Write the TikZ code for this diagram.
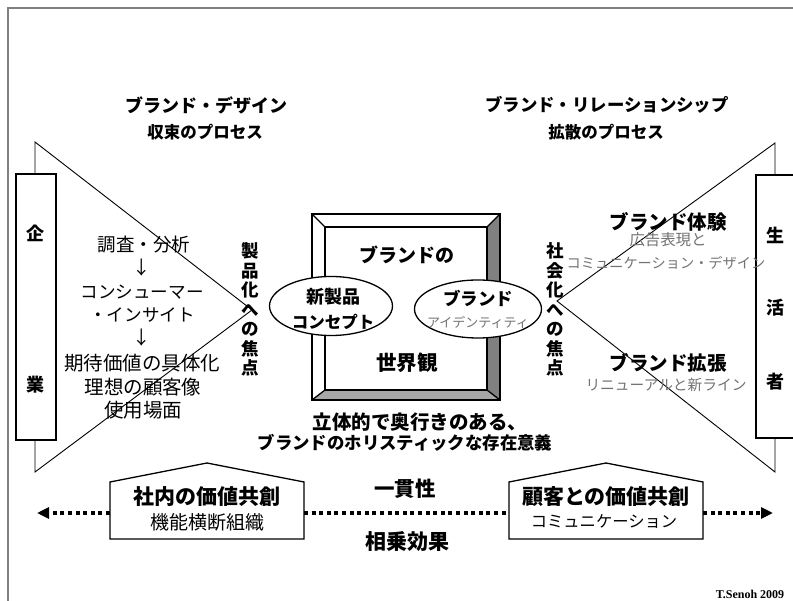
\documentclass[tikz,border=0pt]{standalone}
\usepackage{fontspec}
\setmainfont{Noto Sans CJK JP}
\newfontfamily\serifen{Liberation Serif}
\usetikzlibrary{arrows.meta,shapes.geometric}
\tikzset{
  every node/.style={inner sep=0pt, outer sep=0pt},
  ttl/.style={font=\bfseries\fontsize{18}{20}\selectfont},
  subttl/.style={font=\bfseries\fontsize{16.5}{19}\selectfont},
  lst/.style={font=\fontsize{18.5}{22}\selectfont},
  bld/.style={font=\bfseries\fontsize{#1}{#1}\selectfont},
  reg/.style={font=\fontsize{#1}{#1}\selectfont},
  gtxt/.style={text=black!55, font=\fontsize{#1}{#1}\selectfont},
  vtxt/.style={font=\bfseries\fontsize{17.5}{19.5}\selectfont, align=center},
  thin/.style={line width=0.9pt},
  boxline/.style={line width=1.3pt},
  dotline/.style={line width=3.6pt, dash pattern=on 4pt off 3.6pt},
  framel/.style={draw=black!50, line width=1.3pt}
}
\begin{document}
\begin{tikzpicture}[x=1pt,y=-1pt]
\useasboundingbox (0,0) rectangle (793,601);
\fill[white] (0,0) rectangle (793,601);
% page frame
\draw[framel] (8,601) -- (8,8) -- (793,8);

% titles
\node[ttl] (tl) at (206,105) {ブランド・デザイン};
\node[subttl] (sl) at (205,132) {収束のプロセス};
\node[ttl, font=\bfseries\fontsize{17.4}{20}\selectfont] (tr) at (607,105) {ブランド・リレーションシップ};
\node[subttl] (sr) at (606,132) {拡散のプロセス};

% left funnel
\coordinate (ltop) at (35,142);
\coordinate (lbot) at (35,472);
\coordinate (lapex) at (252,310);
\draw[thin] (35,174) -- (ltop) -- (lapex) -- (lbot) -- (35,440);
\node[draw, boxline, fill=white, minimum width=40pt, minimum height=266pt] (kigyo) at (36,307) {};
\node[bld=18] (ki) at (35,233) {企};
\node[bld=18] (gyo) at (35,385) {業};

% right funnel
\coordinate (rtop) at (775,143);
\coordinate (rbot) at (775,472);
\coordinate (rapex) at (557,301);
\draw[thin] (775,175) -- (rtop) -- (rapex) -- (rbot) -- (775,438);
\draw[boxline, fill=white] (800,175) -- (756,175) -- (756,438) -- (800,438);
\node[bld=18] (sei) at (775,235) {生};
\node[bld=18] (katsu) at (775,308) {活};
\node[bld=18] (sha) at (775,382) {者};

% left list
\node[lst] (l1) at (144,245) {調査・分析};
\node[lst] (l2) at (142,268) {↓};
\node[lst, font=\fontsize{17.6}{20}\selectfont] (l3) at (142,292) {コンシューマー};
\node[lst, font=\fontsize{17.6}{20}\selectfont] (l4) at (142,315) {・インサイト};
\node[lst] (l5) at (142,338) {↓};
\node[lst, font=\fontsize{19.5}{22}\selectfont] (l6) at (142,363) {期待価値の具体化};
\node[lst, font=\fontsize{19.5}{22}\selectfont] (l7) at (143,387) {理想の顧客像};
\node[lst, font=\fontsize{19.5}{22}\selectfont] (l8) at (143,410) {使用場面};

% right texts
\node[bld=19.5] (r1) at (668,222) {ブランド体験};
\node[gtxt=15.4] (r2) at (668,240) {広告表現と};
\node[gtxt=14.2] (r3) at (666,263) {コミュニケーション・デザイン};
\node[bld=19.5] (r4) at (668,363) {ブランド拡張};
\node[gtxt=14.7] (r5) at (666,385) {リニューアルと新ライン};

% vertical texts
\node[vtxt] (vl) at (250,309.5) {製\\品\\化\\へ\\の\\焦\\点};
\node[vtxt] (vr) at (555,309.5) {社\\会\\化\\へ\\の\\焦\\点};

% center bevel frame
\coordinate (o1) at (312,214); \coordinate (o2) at (500,214);
\coordinate (o3) at (500,400); \coordinate (o4) at (312,400);
\coordinate (i1) at (325,227); \coordinate (i2) at (487,227);
\coordinate (i3) at (487,390); \coordinate (i4) at (325,390);
\fill[white] (o1) -- (o2) -- (i2) -- (i1) -- cycle;
\fill[white] (o1) -- (o4) -- (i4) -- (i1) -- cycle;
\fill[black!50] (o2) -- (o3) -- (i3) -- (i2) -- cycle;
\fill[black!35] (o3) -- (o4) -- (i4) -- (i3) -- cycle;
\fill[white] (i1) rectangle (i3);
\draw[boxline] (o1) rectangle (o3);
\draw[boxline] (i1) rectangle (i3);
\draw[boxline] (o1) -- (i1) (o2) -- (i2) (o3) -- (i3) (o4) -- (i4);

\node[bld=19] (c1) at (407,255) {ブランドの};
\node[bld=20.5] (c2) at (407,363) {世界観};

% ellipses
\node[draw, boxline, fill=white, ellipse, minimum width=123pt, minimum height=59pt] (el) at (331,306) {};
\node[draw, boxline, fill=white, ellipse, minimum width=127pt, minimum height=58pt] (er) at (478,309) {};
\node[bld=18] (e1) at (333,297) {新製品};
\node[bld=16.5] (e2) at (333,322) {コンセプト};
\node[bld=17.5] (e3) at (478,298) {ブランド};
\node[gtxt=13] (e4) at (478,322) {アイデンティティ};

\node[bld=19.5] (d1) at (420,422) {立体的で奥行きのある、};
\node[bld=17.4] (d2) at (405,443) {ブランドのホリスティックな存在意義};

% houses
\draw[boxline, fill=white] (110,539) -- (110,482) -- (207,463) -- (304,482) -- (304,539) -- cycle;
\draw[boxline, fill=white] (509,539) -- (509,482) -- (606,463) -- (703,482) -- (703,539) -- cycle;
\coordinate (hlL) at (110,513); \coordinate (hlR) at (304,513);
\coordinate (hrL) at (509,513); \coordinate (hrR) at (703,513);
\coordinate (tipL) at (37,513); \coordinate (tipR) at (773,513);

\node[bld=21] (h1) at (207,497) {社内の価値共創};
\node[reg=19] (h2) at (207,522) {機能横断組織};
\node[bld=21] (h3) at (606,497) {顧客との価値共創};
\node[reg=16.3] (h4) at (604,522) {コミュニケーション};

\draw[dotline, -{Triangle[length=12pt,width=11pt]}] (hlL) -- (tipL);
\draw[dotline] (hlR) -- (hrL);
\draw[dotline, -{Triangle[length=12pt,width=11pt]}] (hrR) -- (tipR);

\node[bld=20.5] (m1) at (405,489) {一貫性};
\node[bld=21] (m2) at (407,542) {相乗効果};

\node[font=\serifen\bfseries\fontsize{12}{12}\selectfont] (cr) at (750,594) {T.Senoh 2009};
\end{tikzpicture}
\end{document}
